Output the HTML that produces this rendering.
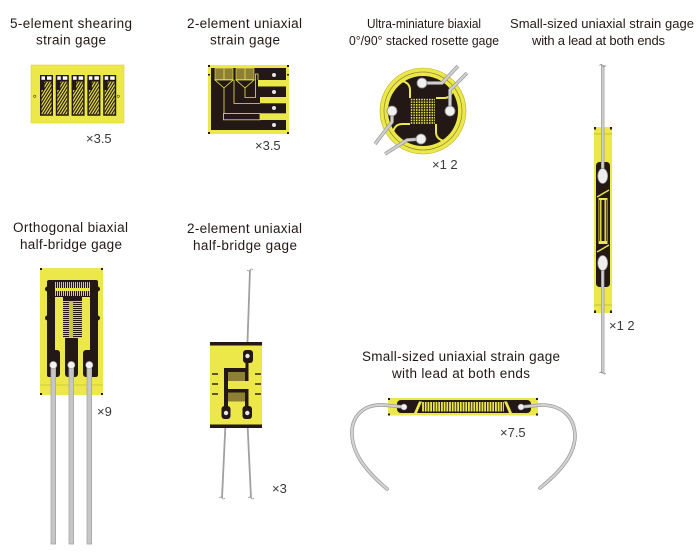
<!DOCTYPE html>
<html><head><meta charset="utf-8"><style>
html,body{margin:0;padding:0;background:#fff;}
svg{display:block;}
text{font-family:"Liberation Sans",Arial,sans-serif;}
</style></head><body>
<svg width="700" height="560" viewBox="0 0 700 560" xmlns="http://www.w3.org/2000/svg">
<defs>
 <pattern id="hatch" width="2.4" height="2.4" patternUnits="userSpaceOnUse" patternTransform="rotate(-58)"><rect width="2.4" height="1.2" fill="#231815"/></pattern>
 <pattern id="dots" width="2.6" height="2.6" patternUnits="userSpaceOnUse"><rect width="2.6" height="2.6" fill="#231815"/><rect width="1.5" height="1.6" fill="#ede84a"/></pattern>
 <pattern id="vstripe" width="2" height="4" patternUnits="userSpaceOnUse"><rect width="2" height="4" fill="#231815"/><rect x="1.1" width="0.9" height="4" fill="#ede84a"/></pattern>
 <pattern id="hstripe" width="4" height="2" patternUnits="userSpaceOnUse"><rect width="4" height="2" fill="#231815"/><rect y="1.1" width="4" height="0.9" fill="#ede84a"/></pattern>
 <pattern id="comb" width="2.7" height="12" patternUnits="userSpaceOnUse"><rect width="2.7" height="12" fill="#ede84a"/><rect width="0.9" height="12" fill="#231815"/></pattern>
 <g id="el">
  <rect x="0" y="75" width="13" height="6.5" fill="#231815"/>
  <rect x="1.5" y="76.3" width="3.5" height="3.5" fill="#fff"/>
  <rect x="7" y="76.3" width="4.5" height="3.5" fill="#fff"/>
  <rect x="0.75" y="81" width="11.5" height="34" fill="#ede84a" stroke="#231815" stroke-width="1.5"/>
  <rect x="1.5" y="82" width="10" height="32.3" fill="url(#hatch)"/>
  <rect x="0" y="81" width="4.5" height="9" fill="#231815"/>
 </g>
</defs>

<!-- Titles -->
<g fill="#231815" font-size="13.5">
 <text x="10" y="28" textLength="122" lengthAdjust="spacing">5-element shearing</text>
 <text x="36" y="44.5" textLength="70" lengthAdjust="spacing">strain gage</text>
 <text x="187" y="28" textLength="115" lengthAdjust="spacing">2-element uniaxial</text>
 <text x="210" y="44.5" textLength="70" lengthAdjust="spacing">strain gage</text>
 <text x="13" y="232" textLength="115" lengthAdjust="spacing">Orthogonal biaxial</text>
 <text x="20" y="249" textLength="102" lengthAdjust="spacing">half-bridge gage</text>
 <text x="187" y="233" textLength="115" lengthAdjust="spacing">2-element uniaxial</text>
 <text x="193" y="250" textLength="104" lengthAdjust="spacing">half-bridge gage</text>
 <text x="362" y="361" textLength="198" lengthAdjust="spacing">Small-sized uniaxial strain gage</text>
 <text x="392" y="378" textLength="138" lengthAdjust="spacing">with lead at both ends</text>
</g>
<g fill="#231815" font-size="12.8">
 <text x="367" y="28" textLength="114" lengthAdjust="spacingAndGlyphs">Ultra-miniature biaxial</text>
 <text x="349" y="45" textLength="150" lengthAdjust="spacingAndGlyphs">0°/90° stacked rosette gage</text>
</g>
<g fill="#231815" font-size="13">
 <text x="510" y="28" textLength="184" lengthAdjust="spacing">Small-sized uniaxial strain gage</text>
 <text x="532" y="45" textLength="133" lengthAdjust="spacing">with a lead at both ends</text>
</g>

<!-- Scale labels -->
<g fill="#3a3a3a" font-size="13">
 <text x="86" y="143">×3.5</text>
 <text x="255" y="150">×3.5</text>
 <text x="432" y="169">×1 2</text>
 <text x="609" y="330">×1 2</text>
 <text x="97" y="416">×9</text>
 <text x="272" y="493">×3</text>
 <text x="500" y="437">×7.5</text>
</g>

<!-- Gage 1: 5-element shearing -->
<rect x="31" y="65" width="93" height="58" fill="#ede84a" stroke="#d8d23a" stroke-width="0.6"/>
<use href="#el" x="40"/>
<use href="#el" x="55.8"/>
<use href="#el" x="71.6"/>
<use href="#el" x="87.4"/>
<use href="#el" x="103.2"/>
<circle cx="34.7" cy="96.3" r="1.2" fill="none" stroke="#231815" stroke-width="0.5"/>
<circle cx="118.3" cy="96.3" r="1.2" fill="none" stroke="#231815" stroke-width="0.5"/>

<!-- Gage 2: 2-element uniaxial -->
<rect x="208" y="65" width="81" height="69" fill="#ede84a"/>
<g fill="#231815">
 <rect x="208" y="65" width="2" height="2"/><rect x="287" y="65" width="2" height="2"/>
 <rect x="208" y="132" width="2" height="2"/><rect x="287" y="132" width="2" height="2"/>
 <rect x="208" y="74" width="2" height="1.5"/><rect x="287" y="74" width="2" height="1.5"/>
 <rect x="211" y="68" width="75" height="62"/>
</g>
<g fill="#ede84a">
 <rect x="258" y="80" width="31" height="6.5"/>
 <rect x="260" y="97" width="29" height="6.3"/>
 <rect x="260" y="113.3" width="29" height="6.7"/>
</g>
<rect x="215" y="68.5" width="18" height="11" fill="#8d8035" stroke="#ede84a" stroke-width="0.6"/>
<rect x="236" y="68.5" width="18" height="11" fill="#8d8035" stroke="#ede84a" stroke-width="0.6"/>
<g stroke="#ede84a" stroke-width="0.8" fill="none">
 <line x1="224" y1="68.5" x2="224" y2="79.5"/><line x1="245" y1="68.5" x2="245" y2="79.5"/>
 <path d="M215 80 L233 80 L224 88 Z" fill="#231815"/>
 <path d="M236 80 L254 80 L245 88 Z" fill="#231815"/>
 <path d="M224 88 L224 113.5"/>
 <rect x="223.5" y="113.5" width="36.5" height="6.3"/>
 <path d="M234 80 L234 103.5 L260 103.5"/>
 <path d="M245 88 L245 97.5 L255.5 97.5 L255.5 74 L258 74 L258 80"/>
</g>
<g fill="#e6e6e6">
 <circle cx="274" cy="75" r="2"/><circle cx="274" cy="92" r="2"/>
 <circle cx="274" cy="108" r="2"/><circle cx="274" cy="125" r="2"/>
</g>

<!-- Gage 3: rosette -->
<circle cx="423" cy="111" r="43" fill="#ede84a" stroke="#b8b030" stroke-width="0.6"/>
<circle cx="423" cy="111" r="39" fill="none" stroke="#8d8530" stroke-width="0.7"/>
<circle cx="423" cy="111" r="35" fill="#231815"/>
<g stroke="#ede84a" stroke-width="2" fill="none">
 <path d="M436 98 L444 98 Q451 98 453 90"/>
 <path d="M436 98 L444 98 Q451 98 453 90" transform="rotate(90 423 111)"/>
 <path d="M436 98 L444 98 Q451 98 453 90" transform="rotate(180 423 111)"/>
 <path d="M436 98 L444 98 Q451 98 453 90" transform="rotate(270 423 111)"/>
</g>
<rect x="410" y="98" width="25" height="26" fill="url(#dots)"/>
<g fill="none" stroke-linejoin="round">
 <g stroke="#999" stroke-width="3.6">
  <polyline points="422,83 442,83 458,66"/>
  <polyline points="450,111 450,90 467,73"/>
  <polyline points="392,111 392,122 375,144"/>
  <polyline points="421,139 407,140 385,154"/>
 </g>
 <g stroke="#cfcfcf" stroke-width="2.2">
  <polyline points="422,83 442,83 458,66"/>
  <polyline points="450,111 450,90 467,73"/>
  <polyline points="392,111 392,122 375,144"/>
  <polyline points="421,139 407,140 385,154"/>
 </g>
</g>
<g fill="#f0f0f0" stroke="#8a8a8a" stroke-width="0.8">
 <circle cx="422" cy="83" r="5"/><circle cx="450" cy="111" r="5"/>
 <circle cx="421" cy="139" r="5"/><circle cx="392" cy="111" r="5"/>
</g>

<!-- Gage 4: vertical small-sized -->
<rect x="594" y="127" width="18" height="186" fill="#ede84a"/>
<g stroke="#9a9530" stroke-width="0.6"><line x1="594" y1="134" x2="612" y2="134"/><line x1="594" y1="305" x2="612" y2="305"/></g>
<g fill="#231815">
 <rect x="594" y="127" width="2" height="2.5"/><rect x="610" y="127" width="2" height="2.5"/>
 <rect x="594" y="310.5" width="2" height="2.5"/><rect x="610" y="310.5" width="2" height="2.5"/>
 <rect x="596" y="162" width="14" height="125" rx="3.5"/>
</g>
<rect x="598.5" y="198" width="9" height="46" fill="#ede84a"/>
<rect x="601.5" y="200" width="3" height="41" fill="#231815"/>
<rect x="599.3" y="200" width="0.8" height="41" fill="#231815"/>
<rect x="605.9" y="200" width="0.8" height="41" fill="#231815"/>
<g stroke="#ede84a" stroke-width="1.4">
 <line x1="597" y1="197" x2="609" y2="190"/>
 <line x1="597" y1="252" x2="609" y2="245"/>
</g>
<g stroke-linecap="butt">
 <line x1="602.7" y1="65" x2="602.7" y2="176" stroke="#999" stroke-width="3.4"/>
 <line x1="602.7" y1="65" x2="602.7" y2="176" stroke="#cfcfcf" stroke-width="2"/>
 <line x1="602.7" y1="263" x2="602.7" y2="373" stroke="#999" stroke-width="3.4"/>
 <line x1="602.7" y1="263" x2="602.7" y2="373" stroke="#cfcfcf" stroke-width="2"/>
</g>
<g fill="none" stroke="#888" stroke-width="0.8">
 <path d="M599.5 65.5 q1.6 -2 3.2 0 q1.6 2 3.2 0"/>
 <path d="M599.5 373 q1.6 -2 3.2 0 q1.6 2 3.2 0"/>
</g>
<g fill="#eeeeee" stroke="#8a8a8a" stroke-width="0.7">
 <ellipse cx="602.7" cy="176" rx="5" ry="7.5"/>
 <ellipse cx="602.7" cy="263" rx="5" ry="7.5"/>
</g>

<!-- Gage 5: orthogonal biaxial half-bridge -->
<rect x="40" y="268" width="63" height="127" fill="#ede84a"/>
<line x1="40" y1="385" x2="103" y2="385" stroke="#b5ad2d" stroke-width="0.6"/>
<g fill="#231815">
 <rect x="40" y="268" width="2" height="2"/><rect x="101" y="268" width="2" height="2"/>
 <rect x="40" y="393" width="2" height="2"/><rect x="101" y="393" width="2" height="2"/>
 <rect x="47" y="280" width="8" height="97" rx="2"/>
 <rect x="90" y="280" width="8" height="97" rx="2"/>
 <circle cx="47.5" cy="289" r="2.5"/><circle cx="47.5" cy="318" r="2.5"/>
 <circle cx="97.5" cy="289" r="2.5"/><circle cx="97.5" cy="318" r="2.5"/>
 <rect x="47" y="280" width="51" height="17" rx="3"/>
 <rect x="63" y="296" width="19" height="6"/>
 <rect x="65" y="336" width="13" height="41" rx="3"/>
 <rect x="47" y="350" width="13" height="27" rx="3"/>
 <rect x="83" y="350" width="14.5" height="27" rx="3"/>
</g>
<rect x="55" y="282" width="35" height="14" fill="url(#vstripe)"/>
<rect x="55" y="288" width="35" height="3" fill="#ede84a"/>
<rect x="63" y="300" width="19" height="38" fill="url(#hstripe)"/>
<rect x="69" y="301" width="4" height="36" fill="#c9c43a"/>
<g fill="#c6c6c6" stroke="#a5a5a5" stroke-width="0.8">
 <rect x="51" y="365" width="4.6" height="179"/>
 <rect x="69" y="365" width="4.6" height="179"/>
 <rect x="87" y="365" width="4.6" height="179"/>
</g>
<g fill="#f2f2f2" stroke="#999" stroke-width="0.6">
 <circle cx="53.3" cy="365" r="3.6"/><circle cx="71.3" cy="365" r="3.6"/><circle cx="89.3" cy="365" r="3.6"/>
</g>

<!-- Gage 6: 2-element uniaxial half-bridge -->
<g fill="none" stroke="#a0a0a0" stroke-width="1.8">
 <line x1="247" y1="356" x2="250" y2="270"/>
 <line x1="226" y1="413" x2="222" y2="498"/>
 <line x1="247" y1="413" x2="251" y2="498"/>
</g>
<g fill="none" stroke="#999" stroke-width="0.7">
 <path d="M247 270 q1.5 2 3 0 q1.5 -2 3 0"/>
 <path d="M219 498 q1.5 -2 3 0 q1.5 2 3 0"/>
 <path d="M248 498 q1.5 -2 3 0 q1.5 2 3 0"/>
</g>
<rect x="210" y="342" width="52" height="86" fill="#ede84a"/>
<g fill="#231815">
 <rect x="210" y="342" width="52" height="3.5"/>
 <rect x="210" y="424.5" width="52" height="3.5"/>
 <rect x="243" y="350" width="10" height="13" rx="3"/>
 <rect x="245.5" y="361" width="3" height="11"/>
 <rect x="224" y="368" width="24.5" height="4"/>
 <rect x="224" y="368" width="4" height="42"/>
 <rect x="245" y="368" width="3.5" height="13"/>
 <rect x="228" y="389" width="20.5" height="3.5"/>
 <rect x="245" y="389" width="3.5" height="17"/>
 <rect x="221.5" y="406" width="9" height="13" rx="3"/>
 <rect x="242.5" y="406" width="9.5" height="13" rx="3"/>
</g>
<g stroke="#231815" stroke-width="1.4">
 <line x1="212" y1="374" x2="218" y2="374"/><line x1="212" y1="384" x2="218" y2="384"/><line x1="212" y1="394" x2="218" y2="394"/>
 <line x1="255" y1="374" x2="261" y2="374"/><line x1="255" y1="384" x2="261" y2="384"/><line x1="255" y1="394" x2="261" y2="394"/>
</g>
<rect x="228" y="372" width="17" height="9" fill="#8d7f34"/>
<rect x="228" y="392.5" width="17" height="9" fill="#8d7f34"/>
<g fill="#e8e8e8">
 <circle cx="247.5" cy="356" r="2.2"/><circle cx="226" cy="413" r="2.2"/><circle cx="247.3" cy="413" r="2.2"/>
</g>

<!-- Gage 7: bottom small-sized with leads -->
<g fill="none" stroke-linecap="round">
 <g stroke="#9a9a9a" stroke-width="3.6">
  <path d="M404 407 L383 405 C362 404 351 418 352 435 C353 458 372 476 387 489"/>
  <path d="M521 407 L541 405 C562 405 575 417 575 437 C574 458 556 475 540 488"/>
 </g>
 <g stroke="#d2d2d2" stroke-width="2.2">
  <path d="M404 407 L383 405 C362 404 351 418 352 435 C353 458 372 476 387 489"/>
  <path d="M521 407 L541 405 C562 405 575 417 575 437 C574 458 556 475 540 488"/>
 </g>
</g>
<rect x="388" y="398" width="150" height="17.5" fill="#ede84a"/>
<g fill="#231815">
 <rect x="388" y="398" width="2" height="2"/><rect x="536" y="398" width="2" height="2"/>
 <rect x="388" y="413.5" width="2" height="2"/><rect x="536" y="413.5" width="2" height="2"/>
 <rect x="397" y="400" width="134" height="13" rx="4"/>
</g>
<rect x="422" y="402" width="82" height="9.5" fill="url(#comb)"/>
<polygon points="414,413 419,401.5 422,401.5 417,413" fill="#ede84a"/>
<polygon points="504,401.5 507,401.5 512,413 509,413" fill="#ede84a"/>
<g stroke="#9a9a9a" stroke-width="3.4"><line x1="383" y1="405" x2="404" y2="407"/><line x1="521" y1="407" x2="541" y2="405"/></g>
<g stroke="#d2d2d2" stroke-width="2"><line x1="383" y1="405" x2="404" y2="407"/><line x1="521" y1="407" x2="541" y2="405"/></g>
<g fill="#f0f0f0" stroke="#999" stroke-width="0.5">
 <circle cx="404" cy="407" r="3"/><circle cx="521" cy="407" r="3"/>
</g>
</svg>
</body></html>
